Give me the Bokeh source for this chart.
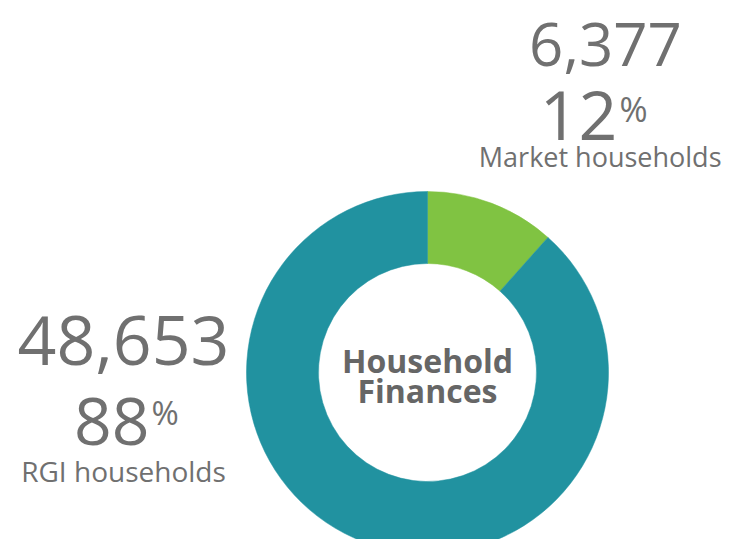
from bokeh.plotting import figure
from bokeh.models import Range1d
from bokeh.core.properties import value
from bokeh.embed import file_html
from bokeh.resources import INLINE
import math

categories = ["Market households", "RGI households"]
counts = [6377, 48653]
count_labels = ["6,377", "48,653"]
pct_labels = ["12", "88"]
colors = ["#80c342", "#2192a0"]
center_lines = ["Household", "Finances"]

W, H = 724, 539
p = figure(width=W, height=H, output_backend="svg", toolbar_location=None,
           x_range=Range1d(0, W), y_range=Range1d(555 - H, 555),
           min_border=0, background_fill_color="white")
p.axis.visible = False
p.grid.visible = False
p.outline_line_color = None

cx, cy = 427, 555 - 372
total = sum(counts)
start = math.pi / 2
for c, col in zip(counts, colors):
    sweep = 2 * math.pi * c / total
    p.annular_wedge(x=[cx], y=[cy], inner_radius=109, outer_radius=181,
                    start_angle=start - sweep, end_angle=start,
                    fill_color=col, line_color=col, line_width=0.5)
    start -= sweep

grey = "#707070"
F = value("Open Sans")

def txt(x, y, s, size, align, weight="normal", color=grey):
    px = float(size.replace("px", ""))
    p.text(x=[x], y=[555 - y + 0.4 * px], text=[s], text_font=F, text_font_size=size,
           text_align=align, text_baseline="alphabetic", text_color=color,
           text_font_style=weight)

# Market (top right)
txt(605, 68, count_labels[0], "60px", "center")
txt(617, 142, pct_labels[0], "68px", "right")
txt(619, 122, "%", "34px", "left")
txt(721, 167, categories[0], "27px", "right")

# RGI (left)
txt(123, 367, count_labels[1], "68px", "center")
txt(149, 447, pct_labels[1], "66px", "right")
txt(151, 425, "%", "33px", "left")
txt(123, 482, categories[1], "28px", "center")

# center
txt(427, 373, center_lines[0], "32px", "center", "bold", "#666666")
txt(427, 403, center_lines[1], "32px", "center", "bold", "#666666")

open("out.html", "w").write(file_html(p, INLINE))
